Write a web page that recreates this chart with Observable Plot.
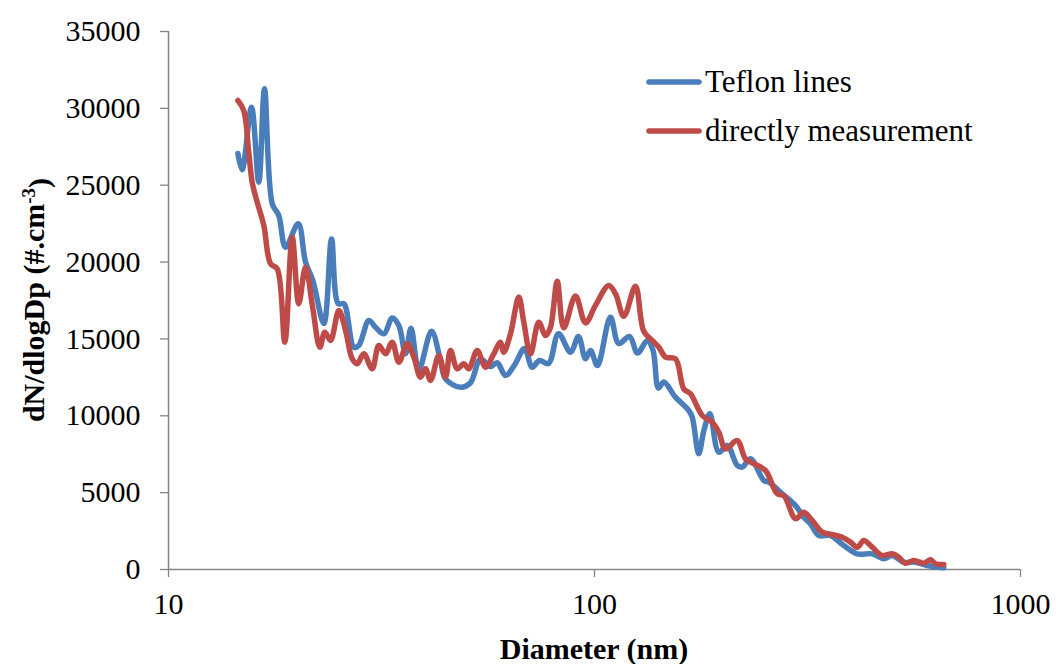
<!DOCTYPE html>
<html>
<head>
<meta charset="utf-8">
<script src="https://cdn.jsdelivr.net/npm/d3@7"></script>
<script src="https://cdn.jsdelivr.net/npm/@observablehq/plot@0.6"></script>
<style>
  html, body { margin: 0; padding: 0; background: #fff; }
  #chart { width: 1056px; height: 664px; }
</style>
</head>
<body>
<div id="chart"></div>
<script>
// ---- Data ----
const seriesNames = ["Teflon lines", "directly measurement"];
const seriesColors = ["#4a7ebb", "#be4b48"];

const teflonDiameter = [14.55, 14.89, 15.66, 16.29, 16.80, 17.52, 18.15, 18.82, 20.16, 20.97, 21.82, 23.16, 24.14, 25.03, 25.80,
  27.23, 27.97, 29.53, 30.62, 32.03, 33.51, 34.73, 36.00, 37.09, 38.69, 41.44, 43.50, 44.69, 48.46, 51.15,
  54.00, 57.00, 59.10, 61.81, 64.89, 68.49, 71.41, 74.28, 77.98, 82.32, 87.83, 91.70, 95.25, 97.86, 101.6,
  109.0, 114.0, 120.8, 126.2, 133.0, 137.2, 141.3, 145.4, 154.9, 166.5, 169.6, 175.7, 180.6, 186.5, 195.8,
  204.9, 216.3, 222.2, 232.4, 249.7, 256.6, 275.8, 296.4, 309.9, 321.4, 336.2, 358.1, 384.8, 413.7, 448.7,
  477.7, 499.9, 532.2, 566.9, 603.9, 660.7];
const teflonValue = [27060, 26000, 30080, 25200, 31270, 23800, 23030, 20970, 22490, 20000, 18800, 16000, 21500, 17290, 17290,
  14460, 14570, 16200, 15760, 15330, 16360, 15870, 14040, 15700, 13000, 15500, 13600, 12400, 11860, 12150,
  13700, 13200, 13450, 12620, 13300, 14370, 13160, 13600, 13400, 15340, 14140, 15160, 13710, 14250, 13270,
  16410, 14700, 15160, 14080, 14900, 14250, 11800, 12190, 11210, 10340, 9910, 7530, 9040, 10130, 7630,
  8070, 6770, 6660, 7200, 5790, 5680, 4930, 4160, 3400, 2970, 2210, 2210, 1560, 1020, 1020,
  700, 910, 475, 475, 260, 110];

const directDiameter = [14.55, 15.02, 15.43, 15.72, 16.15, 16.74, 17.36, 18.00, 18.75, 19.52, 20.22, 20.97, 21.82, 22.66, 23.28,
  24.01, 25.11, 26.04, 26.99, 27.73, 28.74, 30.07, 31.17, 32.32, 33.51, 34.73, 36.34, 37.65, 39.04, 40.11,
  41.21, 43.10, 44.69, 45.92, 47.61, 49.34, 50.69, 53.04, 55.47, 58.02, 60.16, 61.25, 63.50, 66.42, 68.23,
  70.76, 73.99, 76.74, 78.83, 81.74, 84.70, 90.24, 95.25, 100.5, 108.0, 112.0, 117.2, 124.8, 130.5, 136.6,
  141.6, 146.8, 154.9, 162.0, 168.0, 179.0, 188.9, 195.8, 203.0, 216.3, 226.2, 236.6, 252.0, 268.5, 278.3,
  296.4, 309.9, 324.3, 342.3, 354.8, 381.5, 399.0, 413.7, 428.8, 448.7, 473.5, 499.9, 518.0, 537.0, 561.7,
  592.9, 614.8, 631.7, 660.7];
const directValue = [30510, 29860, 27150, 25200, 23900, 22380, 19890, 19560, 14790, 21620, 17290, 19670, 16960, 14460, 15440,
  14900, 16850, 15550, 13710, 13380, 14030, 13060, 14570, 14030, 14790, 13490, 14680, 13820, 12510, 13060,
  12300, 13920, 12510, 14250, 13060, 13380, 13060, 14250, 13160, 14030, 14790, 14140, 15330, 17720, 16090,
  14030, 16090, 15220, 15760, 18750, 15720, 17800, 16040, 17180, 18480, 17940, 16470, 18420, 15500, 14900,
  14460, 13820, 13710, 11750, 11430, 10020, 9580, 8930, 7850, 8390, 7200, 6880, 6440, 4930, 4810,
  3300, 3730, 3190, 2430, 2320, 2100, 1780, 1450, 1890, 1450, 910, 1020, 800, 410, 590,
  410, 630, 370, 330];

const yTicks = [0, 5000, 10000, 15000, 20000, 25000, 30000, 35000];
const xTicks = [10, 100, 1000];
const xTitle = "Diameter (nm)";
const yTitleMain = "dN/dlogDp (#.cm";
const yTitleSup = "-3";
const yTitleEnd = ")";

// ---- Build tables ----
const teflon = teflonDiameter.map((d, i) => ({d, v: teflonValue[i]}));
const direct = directDiameter.map((d, i) => ({d, v: directValue[i]}));

const axisGray = "#868686";
const serif = "'Liberation Serif', 'Times New Roman', serif";

const chart = Plot.plot({
  width: 1056,
  height: 664,
  marginLeft: 168,
  marginRight: 36,
  marginTop: 31,
  marginBottom: 95,
  x: {type: "log", domain: [10, 1000]},
  y: {domain: [0, 35000]},
  style: {fontFamily: serif, fontSize: "30px", color: "#000", background: "#fff", overflow: "visible"},
  marks: [
    Plot.axisY(yTicks, {tickSize: 8, tickPadding: 20, tickFormat: d3.format("d"), label: null,
      stroke: axisGray, strokeWidth: 1.3, fill: "#000", fontSize: 30}),
    Plot.axisX(xTicks, {tickSize: 8, tickPadding: 15, tickFormat: d3.format("d"), label: null,
      stroke: axisGray, strokeWidth: 1.3, fill: "#000", fontSize: 30}),
    Plot.ruleX([10], {stroke: axisGray, strokeWidth: 1.5}),
    Plot.ruleY([0], {stroke: axisGray, strokeWidth: 1.5}),
    Plot.line(teflon, {x: "d", y: "v", stroke: seriesColors[0], strokeWidth: 5.5, curve: "catmull-rom"}),
    Plot.line(direct, {x: "d", y: "v", stroke: seriesColors[1], strokeWidth: 5.5, curve: "catmull-rom"})
  ]
});

document.getElementById("chart").appendChild(chart);

// ---- Titles and legend ----
const svg = d3.select(chart);
const xs = chart.scale("x"), ys = chart.scale("y");
const xMid = (xs.apply(10) + xs.apply(1000)) / 2;
const yMid = (ys.apply(0) + ys.apply(35000)) / 2;

svg.append("text")
  .attr("x", xMid).attr("y", 659)
  .attr("text-anchor", "middle")
  .style("font-family", serif).style("font-size", "30px").style("font-weight", "bold")
  .text(xTitle);

const yt = svg.append("text")
  .attr("transform", `translate(44,${yMid}) rotate(-90)`)
  .attr("text-anchor", "middle")
  .style("font-family", serif).style("font-size", "30px").style("font-weight", "bold");
yt.append("tspan").text(yTitleMain);
yt.append("tspan").attr("dy", "-0.45em").style("font-size", "19px").text(yTitleSup);
yt.append("tspan").attr("dy", "0.45em").text(yTitleEnd);

const legend = svg.append("g").attr("text-anchor", "start");
seriesNames.forEach((name, i) => {
  const cy = 82 + i * 49;
  legend.append("line")
    .attr("x1", 649).attr("x2", 699).attr("y1", cy).attr("y2", cy)
    .attr("stroke", seriesColors[i]).attr("stroke-width", 5.5).attr("stroke-linecap", "round");
  legend.append("text")
    .attr("x", 705).attr("y", cy + 10)
    .attr("text-anchor", "start")
    .style("font-family", serif).style("font-size", "31px")
    .text(name);
});
</script>
</body>
</html>
